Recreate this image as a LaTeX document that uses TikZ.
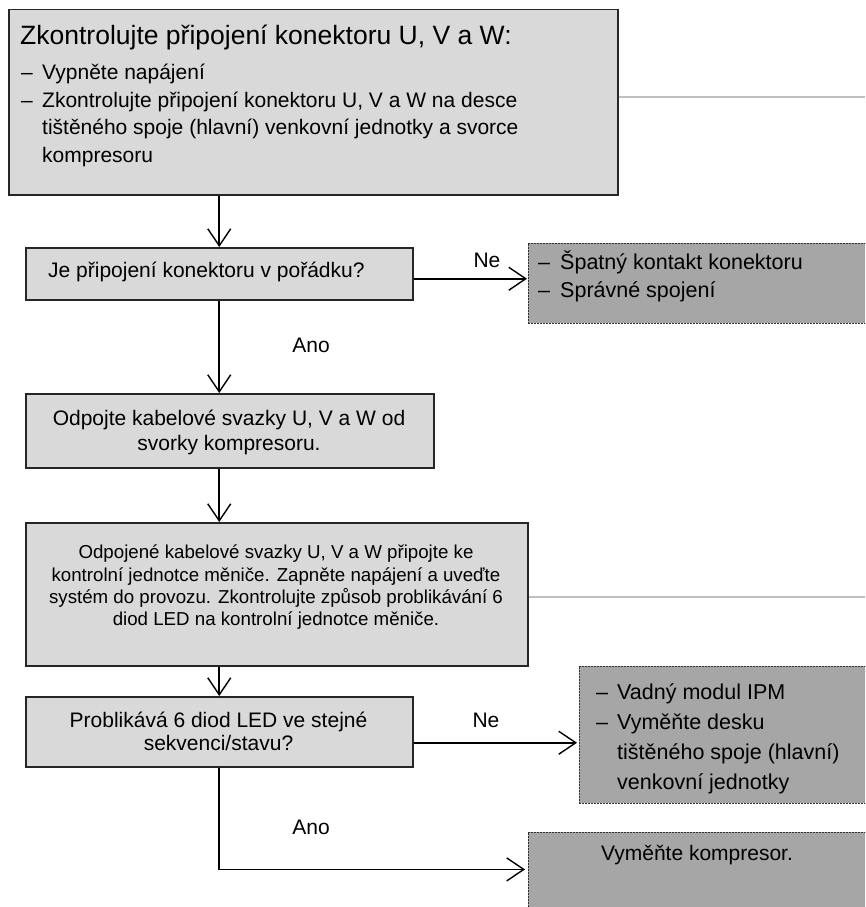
\documentclass[tikz,border=0pt]{standalone}
\usepackage{fontspec}
\setmainfont{Liberation Sans}
\usetikzlibrary{arrows.meta}
\definecolor{boxfill}{HTML}{D9D9D9}
\definecolor{resfill}{HTML}{A6A6A6}
\definecolor{guide}{HTML}{BFBFBF}
\definecolor{frame}{HTML}{262626}
\begin{document}
\begin{tikzpicture}[x=1pt,y=-1pt,
  stepbox/.style={draw=frame, line width=1.5pt, fill=boxfill, inner sep=0pt, anchor=north west},
  resbox/.style={draw=black!80, dash pattern=on 2pt off 1pt, line width=0.8pt, fill=resfill, inner sep=0pt, anchor=north west},
  flow/.style={line width=1.8pt, draw=black, -{Straight Barb[length=17pt,width=23pt,line width=1.4pt]}},
  guideline/.style={line width=2pt, draw=guide},
  txt/.style={inner sep=0pt, anchor=base west, font=\fontsize{21}{25}\selectfont},
  rtxt/.style={inner sep=0pt, anchor=base west, font=\fontsize{21.5}{25}\selectfont},
  ctxt/.style={txt, anchor=base},
  small/.style={inner sep=0pt, anchor=base, font=\fontsize{18.7}{22}\selectfont},
  head/.style={inner sep=0pt, anchor=base west, font=\fontsize{26.5}{30}\selectfont},
  lbl/.style={inner sep=0pt, font=\fontsize{21}{25}\selectfont}
]
\clip (0,0) rectangle (865,907);
\fill[white] (0,0) rectangle (865,907);

% process boxes
\node[stepbox, minimum width=609pt, minimum height=185pt] (check) at (8,9) {};
\node[stepbox, minimum width=387pt, minimum height=52pt]  (q1)    at (25,247) {};
\node[stepbox, minimum width=408pt, minimum height=74pt]  (disc)  at (25,393) {};
\node[stepbox, minimum width=502pt, minimum height=143pt] (led)   at (25,522) {};
\node[stepbox, minimum width=387pt, minimum height=70pt]  (q2)    at (25,696) {};

% result boxes
\node[resbox, minimum width=342pt, minimum height=80pt]  (fix1) at (528,243) {};
\node[resbox, minimum width=291pt, minimum height=137pt] (fix2) at (579,666) {};
\node[resbox, minimum width=342pt, minimum height=80pt]  (comp) at (528,832) {};

% texts of the first box
\node[head] (t0) at (20,45) {Zkontrolujte připojení konektoru U, V a W:};
\node[txt] (t1d) at (21,79) {–};
\node[txt] (t1)  at (42,79) {Vypněte napájení};
\node[txt] (t2d) at (21,107) {–};
\node[txt] (t2)  at (42,107) {Zkontrolujte připojení konektoru U, V a W na desce};
\node[txt] (t3)  at (42,134) {tištěného spoje (hlavní) venkovní jednotky a svorce};
\node[txt] (t4)  at (42,162) {kompresoru};

% question 1 and its result
\node[txt] (q1t) at (48,277.5) {Je připojení konektoru v pořádku?};
\node[rtxt] (f1d) at (538,269.5) {–};
\node[rtxt] (f1a) at (560,269.5) {Špatný kontakt konektoru};
\node[rtxt] (f2d) at (538,297.5) {–};
\node[rtxt] (f1b) at (560,297.5) {Správné spojení};

% disconnect step
\node[ctxt] (d1) at (229,425.5) {Odpojte kabelové svazky U, V a W od};
\node[ctxt] (d2) at (229,450.5) {svorky kompresoru.};

% LED check step
\node[small] (l1) at (276,558.7) {Odpojené kabelové svazky U, V a W připojte ke};
\node[small] (l2) at (276,581.7) {kontrolní jednotce měniče. Zapněte napájení a uveďte};
\node[small] (l3) at (276,603.7) {systém do provozu. Zkontrolujte způsob problikávání 6};
\node[small] (l4) at (276,625.7) {diod LED na kontrolní jednotce měniče.};

% question 2 and its results
\node[ctxt] (q2a) at (218.5,727.5) {Problikává 6 diod LED ve stejné};
\node[ctxt] (q2b) at (218.5,750.5) {sekvenci/stavu?};
\node[rtxt] (g1d) at (596,699.5) {–};
\node[rtxt] (g1)  at (617,699.5) {Vadný modul IPM};
\node[rtxt] (g2d) at (596,729.5) {–};
\node[rtxt] (g2)  at (617,729.5) {Vyměňte desku};
\node[rtxt] (g3)  at (617,759.5) {tištěného spoje (hlavní)};
\node[rtxt] (g4)  at (617,789.5) {venkovní jednotky};
\node[ctxt] (c1) at (697,860.5) {Vyměňte kompresor.};

% branch labels
\node[lbl] (ne1)  at (487,260) {Ne};
\node[lbl] (ano1) at (311,345) {Ano};
\node[lbl] (ne2)  at (486,720) {Ne};
\node[lbl] (ano2) at (311,827) {Ano};

% side guide lines
\coordinate (gl1) at (865,97);
\coordinate (gl2) at (865,597);
\draw[guideline] (gl1 -| check.east) -- (gl1);
\draw[guideline] (gl2 -| led.east) -- (gl2);

% main flow
\draw[flow] (check.south -| q1.north) -- (q1.north);
\draw[flow] (q1.south) -- (disc.north -| q1.south);
\draw[flow] (disc.south -| q1.south) -- (led.north -| q1.south);
\draw[flow] (led.south -| q2.north) -- (q2.north);

% "Ne" branches
\coordinate (nb1) at ([yshift=-5pt]q1.east);
\draw[flow, shorten >=1pt] (nb1) -- (nb1 -| fix1.west);
\coordinate (nb2) at ([yshift=-11pt]q2.east);
\draw[flow, shorten >=2pt] (nb2) -- (nb2 -| fix2.west);

% "Ano" branch to compressor replacement
\coordinate (ab2) at ([yshift=3pt]comp.west);
\draw[flow, shorten >=3pt] (q2.south) |- (ab2);
\end{tikzpicture}
\end{document}
